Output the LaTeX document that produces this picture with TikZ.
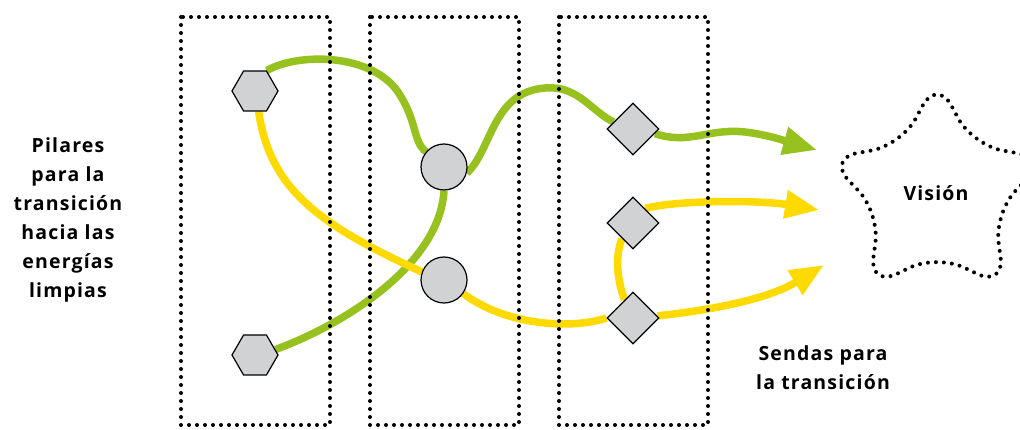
\documentclass[tikz,border=0pt]{standalone}
\usepackage{fontspec}
\setmainfont{Open Sans}
\usetikzlibrary{shapes.geometric,arrows.meta,backgrounds}

\definecolor{pathgreen}{RGB}{150,193,31}
\definecolor{pathyellow}{RGB}{255,218,0}
\definecolor{stepgray}{RGB}{208,210,211}

\tikzset{
    dotline/.style={line width=4pt,line cap=round,dash pattern=on 0pt off 8pt},
    pillar/.style={draw,fill=stepgray,line width=1.2pt,regular polygon,regular polygon sides=6,minimum size=46pt,inner sep=0pt},
    hub/.style={draw,fill=stepgray,line width=1.2pt,circle,minimum size=46pt,inner sep=0pt},
    gate/.style={draw,fill=stepgray,line width=1.2pt,diamond,minimum width=52pt,minimum height=52pt,inner sep=0pt},
    route/.style={line width=7.5pt,-{Triangle[length=34pt,width=27pt]}},
    greenroute/.style={route,draw=pathgreen},
    yellowroute/.style={route,draw=pathyellow},
    label/.style={font=\fontsize{19.5}{29}\selectfont\bfseries\addfontfeature{LetterSpace=6},align=center}
}

\begin{document}
\begin{tikzpicture}[x=1pt,y=-1pt]
        \useasboundingbox (0,0) rectangle (1020,430);

        % columns
        \draw[dotline] (181,17) rectangle (330,425);
        \draw[dotline] (370,17) rectangle (519,425);
        \draw[dotline] (559,17) rectangle (708,425);

        % steps
        \node[pillar] (hexA) at (255,91) {};
        \node[pillar] (hexB) at (255,355) {};
        \node[hub] (circA) at (444,167) {};
        \node[hub] (circB) at (444,280) {};
        \node[gate] (dA) at (633,129) {};
        \node[gate] (dB) at (633,223) {};
        \node[gate] (dC) at (633,318) {};

        % goal
        \node[star,star points=5,star point ratio=1.9,minimum size=230pt,inner sep=0pt,
              draw,dotline,rounded corners=30pt] (vision) at (937,194) {};
        \node[label] (visiontext) at (936,193) {Visión};

        \coordinate (gEnd) at (817,150);
        \coordinate (yEndA) at (819,210);
        \coordinate (yEndB) at (824,265);

        % paths
        \begin{pgfonlayer}{background}
            \draw[pathgreen,line width=7.5pt] (hexA.60) .. controls (300,52) and (372,54) .. (398,92)
                .. controls (418,122) and (412,140) .. (circA.140);
            \draw[greenroute] (circA.-15) .. controls (492,150) and (492,92) .. (545,88)
                .. controls (578,85) and (592,112) .. (dA.160)
                (dA.-12) .. controls (690,145) and (708,128) .. (745,132)
                .. controls (770,135) and (792,143) .. (gEnd);
            \draw[pathgreen,line width=7.5pt] (hexB.15) .. controls (350,322) and (440,262) .. (circA.south);

            \draw[pathyellow,line width=7.5pt] (hexA.-80) .. controls (270,190) and (320,225) .. (circB.160);
            \draw[yellowroute] (circB.-35) .. controls (505,325) and (570,330) .. (dC.180)
                (dC.5) .. controls (730,308) and (775,295) .. (yEndB);
            \draw[yellowroute] (dC.115) .. controls (618,282) and (614,258) .. (dB.-125)
                (dB.50) .. controls (675,200) and (760,200) .. (yEndA);
        \end{pgfonlayer}

        % texts
        \node[label] (pillars) at (68,220) {Pilares\\para la\\transición\\hacia las\\energías\\limpias};
        \node[label] (routes) at (823,368) {Sendas para\\la transición};
    \end{tikzpicture}
\end{document}
